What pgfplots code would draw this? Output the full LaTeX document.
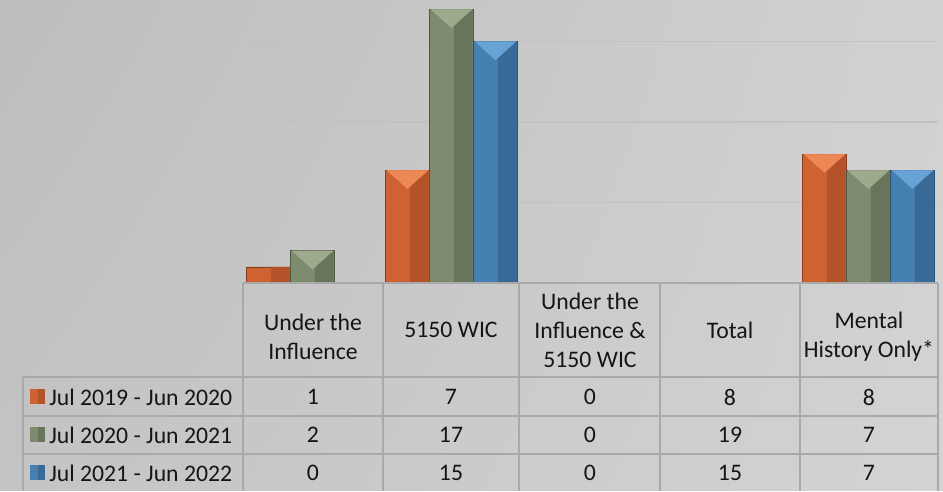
\documentclass[border=0pt]{standalone}
\usepackage{pgfplots}
\pgfplotsset{compat=1.18}
\usetikzlibrary{shadings}
\usepackage{fontspec}
\setmainfont{Carlito}
\definecolor{orgL}{HTML}{CF6233}
\definecolor{orgD}{HTML}{B4532A}
\definecolor{orgT}{HTML}{EE8756}
\definecolor{grnL}{HTML}{7E8B6E}
\definecolor{grnD}{HTML}{69755A}
\definecolor{grnT}{HTML}{9EAA8C}
\definecolor{bluL}{HTML}{4680B1}
\definecolor{bluD}{HTML}{376A96}
\definecolor{bluT}{HTML}{69A2D4}
\definecolor{bgA}{HTML}{BDBDBD}
\definecolor{bgB}{HTML}{D3D3D3}
\definecolor{rule}{HTML}{A9A9A9}
\definecolor{txt}{HTML}{151515}
\pgfplotsset{toptri/.style={only marks, mark=triangle*, mark size=17.5pt, forget plot}}
\begin{document}
\begin{tikzpicture}
% page: 943 x 491 px, 1 px = 0.75pt; scope below uses px with y pointing down
\begin{scope}[x=0.75pt, y=-0.75pt, shift={(0pt,368.25pt)}]
\shade[upper left=bgA, lower right=bgB, upper right=bgB!92!bgA, lower left=bgA!70!bgB] (0,0) rectangle (943,491);
\useasboundingbox (0,0) rectangle (943,491);
\end{scope}

\begin{axis}[
  at={(182.25pt,155.99pt)}, anchor=south west, scale only axis,
  width=521.25pt, height=212.25pt,
  xmin=-0.5, xmax=4.5, ymin=0, ymax=17.58,
  axis line style={draw=none},
  xtick=\empty, ytick={5,10,15}, yticklabels={},
  major tick length=0pt,
  ymajorgrids, grid style={color=black!24, line width=1.1pt},
  ybar=0pt, bar width=33pt,
]
% x: 0 Under the Influence, 1 5150 WIC, 2 UI & 5150 WIC, 3 Total (not drawn), 4 Mental History Only*
\addplot[fill=orgL, draw=orgD!75!black, line width=0.5pt, bar shift=-33pt]
  coordinates {(0,1) (1,7) (2,0) (4,8)};
\addplot[fill=grnL, draw=grnD!75!black, line width=0.5pt, bar shift=0pt]
  coordinates {(0,2) (1,17) (2,0) (4,7)};
\addplot[fill=bluL, draw=bluD!75!black, line width=0.5pt, bar shift=33pt]
  coordinates {(0,0) (1,15) (2,0) (4,7)};
% darker right side of each bar
\addplot[fill=orgD, draw=none, bar width=14pt, bar shift=-24.2pt, forget plot]
  coordinates {(0,1) (1,7) (4,8)};
\addplot[fill=grnD, draw=none, bar width=14pt, bar shift=8.8pt, forget plot]
  coordinates {(0,2) (1,17) (4,7)};
\addplot[fill=bluD, draw=none, bar width=14pt, bar shift=41.8pt, forget plot]
  coordinates {(1,15) (4,7)};
% light bevel at the top of each bar
\addplot[toptri, color=orgT, mark options={xshift=-33pt, yshift=-4.6pt, yscale=0.52, rotate=180, fill=orgT, draw=orgT}]
  coordinates {(1,7) (4,8)};
\addplot[toptri, color=grnT, mark options={yshift=-4.6pt, yscale=0.52, rotate=180, fill=grnT, draw=grnT}]
  coordinates {(0,2) (1,17) (4,7)};
\addplot[toptri, color=bluT, mark options={xshift=33pt, yshift=-4.6pt, yscale=0.52, rotate=180, fill=bluT, draw=bluT}]
  coordinates {(1,15) (4,7)};
\end{axis}

\begin{scope}[x=0.75pt, y=-0.75pt, shift={(0pt,368.25pt)}]
% table rules
\draw[rule, line width=1.4pt] (243,283) -- (938,283);
\draw[rule, line width=1.4pt] (23,377) -- (938,377);
\draw[rule, line width=1.4pt] (23,416) -- (938,416);
\draw[rule, line width=1.4pt] (23,454) -- (938,454);
\foreach \c in {243,383,519,660,800,938} \draw[rule, line width=1.4pt] (\c,283) -- (\c,491);
\draw[rule, line width=1.4pt] (23,377) -- (23,491);

\begin{scope}[every node/.style={text=txt, font=\fontsize{17.8pt}{21.8pt}\selectfont, align=center, inner sep=0pt}]
\node at (313,337) {Under the\\Influence};
\node at (451,330) {5150 WIC};
\node at (590,330) {Under the\\Influence \&\\5150 WIC};
\node at (730,330) {Total};
\node at (869,337) {Mental\\History Only*};

\node[anchor=west] at (49,397) {Jul 2019 - Jun 2020};
\node[anchor=west] at (49,435) {Jul 2020 - Jun 2021};
\node[anchor=west] at (49,473) {Jul 2021 - Jun 2022};
\foreach \x/\a/\b/\c in {313/1/2/0, 451/7/17/15, 590/0/0/0, 730/8/19/15, 869/8/7/7} {
  \node at (\x,397) {\a};
  \node at (\x,435) {\b};
  \node at (\x,473) {\c};
}
\end{scope}
\fill[orgL] (30,389) rectangle (45,404); \fill[orgD] (38,389) rectangle (45,404);
\fill[grnL] (30,427) rectangle (45,442); \fill[grnD] (38,427) rectangle (45,442);
\fill[bluL] (30,465) rectangle (45,480); \fill[bluD] (38,465) rectangle (45,480);
\end{scope}
\end{tikzpicture}
\end{document}
